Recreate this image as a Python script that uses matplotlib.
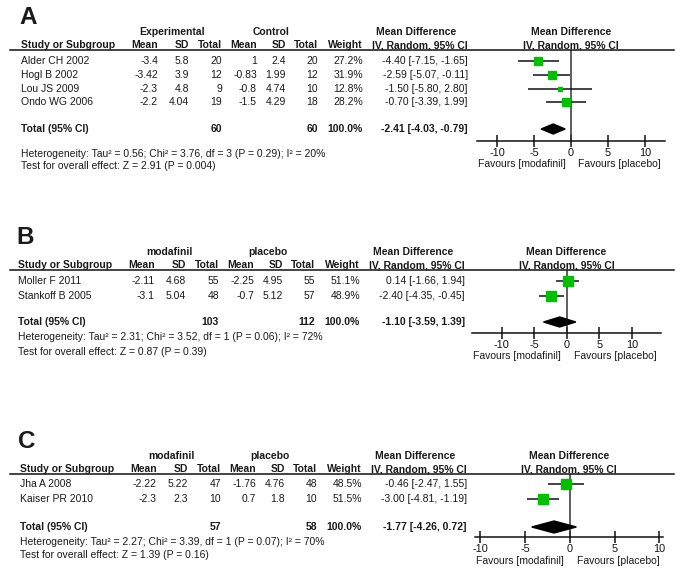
import numpy as np
import matplotlib
matplotlib.use("Agg")
import matplotlib.pyplot as plt
from matplotlib.lines import Line2D

plt.rcParams['font.family'] = ['Liberation Sans', 'DejaVu Sans']

W, H = 682, 574
TXT = '#1a1a1a'
GREEN = '#00c000'
FS = 7.5

# ---------------- data ----------------
# Panel A
a_group = ['Experimental', 'Control']
a_studies = ['Alder CH 2002', 'Hogl B 2002', 'Lou JS 2009', 'Ondo WG 2006']
a_exp_mean = ['-3.4', '-3.42', '-2.3', '-2.2']
a_exp_sd = ['5.8', '3.9', '4.8', '4.04']
a_exp_n = [20, 12, 9, 19]
a_ctl_mean = ['1', '-0.83', '-0.8', '-1.5']
a_ctl_sd = ['2.4', '1.99', '4.74', '4.29']
a_ctl_n = [20, 12, 10, 18]
a_weight = [27.2, 31.9, 12.8, 28.2]
a_md = [-4.40, -2.59, -1.50, -0.70]
a_lo = [-7.15, -5.07, -5.80, -3.39]
a_hi = [-1.65, -0.11, 2.80, 1.99]
a_total = (60, 60, -2.41, -4.03, -0.79)
a_het = 'Heterogeneity: Tau² = 0.56; Chi² = 3.76, df = 3 (P = 0.29); I² = 20%'
a_test = 'Test for overall effect: Z = 2.91 (P = 0.004)'

# Panel B
b_group = ['modafinil', 'placebo']
b_studies = ['Moller F 2011', 'Stankoff B 2005']
b_exp_mean = ['-2.11', '-3.1']
b_exp_sd = ['4.68', '5.04']
b_exp_n = [55, 48]
b_ctl_mean = ['-2.25', '-0.7']
b_ctl_sd = ['4.95', '5.12']
b_ctl_n = [55, 57]
b_weight = [51.1, 48.9]
b_md = [0.14, -2.40]
b_lo = [-1.66, -4.35]
b_hi = [1.94, -0.45]
b_total = (103, 112, -1.10, -3.59, 1.39)
b_het = 'Heterogeneity: Tau² = 2.31; Chi² = 3.52, df = 1 (P = 0.06); I² = 72%'
b_test = 'Test for overall effect: Z = 0.87 (P = 0.39)'

# Panel C
c_group = ['modafinil', 'placebo']
c_studies = ['Jha A 2008', 'Kaiser PR 2010']
c_exp_mean = ['-2.22', '-2.3']
c_exp_sd = ['5.22', '2.3']
c_exp_n = [47, 10]
c_ctl_mean = ['-1.76', '0.7']
c_ctl_sd = ['4.76', '1.8']
c_ctl_n = [48, 10]
c_weight = [48.5, 51.5]
c_md = [-0.46, -3.00]
c_lo = [-2.47, -4.81]
c_hi = [1.55, -1.19]
c_total = (57, 58, -1.77, -4.26, 0.72)
c_het = 'Heterogeneity: Tau² = 2.27; Chi² = 3.39, df = 1 (P = 0.07); I² = 70%'
c_test = 'Test for overall effect: Z = 1.39 (P = 0.16)'

ticks = [-10, -5, 0, 5, 10]

# ---------------- layout ----------------
fig = plt.figure(figsize=(W / 100, H / 100), dpi=100)


def fx(x):
    return x / W


def fy(y):
    return 1 - y / H


def t(x, y, s, ha='left', bold=False, size=FS, va='center'):
    fig.text(fx(x), fy(y), s, ha=ha, va=va, fontsize=size,
             fontweight='bold' if bold else 'normal', color=TXT)


def panel(letter, group, studies, em, esd, en, cm, csd, cn, wt, md, lo, hi,
          total, het, test, lay):
    dx = lay['dx']
    col = {k: v + dx for k, v in
           dict(study=21, em=158, esd=189, en=222, cm=257, csd=286, cn=318,
                wt=363, ci=468).items()}
    t(19 + dx, lay['letter'], letter, bold=True, size=17.5)
    # group headers
    t(172 + dx, lay['group'], group[0], ha='center', bold=True)
    t(271 + dx, lay['group'], group[1], ha='center', bold=True)
    t(416 + dx, lay['group'], 'Mean Difference', ha='center', bold=True)
    # column headers
    yh = lay['colhdr']
    t(col['study'], yh, 'Study or Subgroup', bold=True)
    for k, s in [('em', 'Mean'), ('esd', 'SD'), ('en', 'Total'),
                 ('cm', 'Mean'), ('csd', 'SD'), ('cn', 'Total'),
                 ('wt', 'Weight'), ('ci', 'IV, Random, 95% CI')]:
        t(col[k], yh, s, ha='right', bold=True)
    # header line
    fig.add_artist(Line2D([fx(10), fx(674)], [fy(lay['line'])] * 2,
                          color='#111111', lw=1.1))
    # rows
    for i, y in enumerate(lay['rows']):
        t(col['study'], y, studies[i])
        t(col['em'], y, em[i], ha='right')
        t(col['esd'], y, esd[i], ha='right')
        t(col['en'], y, str(en[i]), ha='right')
        t(col['cm'], y, cm[i], ha='right')
        t(col['csd'], y, csd[i], ha='right')
        t(col['cn'], y, str(cn[i]), ha='right')
        t(col['wt'], y, f'{wt[i]:.1f}%', ha='right')
        t(col['ci'], y, f'{md[i]:.2f} [{lo[i]:.2f}, {hi[i]:.2f}]', ha='right')
    ne, nc, tmd, tlo, thi = total
    yt = lay['total']
    t(col['study'], yt, 'Total (95% CI)', bold=True)
    t(col['en'], yt, str(ne), ha='right', bold=True)
    t(col['cn'], yt, str(nc), ha='right', bold=True)
    t(col['wt'], yt, '100.0%', ha='right', bold=True)
    t(col['ci'], yt, f'{tmd:.2f} [{tlo:.2f}, {thi:.2f}]', ha='right', bold=True)
    t(col['study'], lay['het'], het)
    t(col['study'], lay['test'], test)

    # forest axes
    x0, x1 = lay['ax_x']
    top, bot = lay['line'], lay['axis']
    ax = fig.add_axes([fx(x0), fy(bot), fx(x1) - fx(x0), (bot - top) / H])
    ax.set_xlim(*lay['xlim'])
    ax.set_ylim(bot, top)
    ax.patch.set_alpha(0)
    for s in ['top', 'left', 'right']:
        ax.spines[s].set_visible(False)
    ax.spines['bottom'].set_color('#111111')
    ax.spines['bottom'].set_linewidth(1.1)
    ax.set_yticks([])
    ax.set_xticks(ticks)
    ax.set_xticklabels([str(v) for v in ticks])
    ax.tick_params(axis='x', direction='inout', length=8, width=1.1,
                   labelsize=7.8, colors='#111111', pad=1)
    ax.axvline(0, color='#333333', lw=1.1)
    rows = lay['rows']
    ax.hlines(rows, lo, hi, color='#111111', lw=1.1, zorder=2)
    for i, y in enumerate(rows):
        ax.plot(md[i], y, 's', color=GREEN, ms=np.sqrt(wt[i]) * lay['msf'],
                mec=GREEN, zorder=3)
    h = lay['dh']
    ax.fill([tlo, tmd, thi, tmd], [yt, yt - h, yt, yt + h], color='black',
            zorder=3, clip_on=False)
    # favours labels
    yf = lay['fav']
    trans = ax.get_xaxis_transform()
    ax.annotate('Favours [modafinil]', xy=(0, 0), xycoords=trans,
                xytext=(-4, -(yf - bot) * 0.72), textcoords='offset points',
                ha='right', va='center', fontsize=FS, color=TXT)
    ax.annotate('Favours [placebo]', xy=(0, 0), xycoords=trans,
                xytext=(5, -(yf - bot) * 0.72), textcoords='offset points',
                ha='left', va='center', fontsize=FS, color=TXT)
    # forest header
    xc = (x0 + x1) / 2
    t(xc, lay['group'], 'Mean Difference', ha='center', bold=True)
    t(xc, lay['colhdr'], 'IV, Random, 95% CI', ha='center', bold=True)


panel('A', a_group, a_studies, a_exp_mean, a_exp_sd, a_exp_n, a_ctl_mean,
      a_ctl_sd, a_ctl_n, a_weight, a_md, a_lo, a_hi, a_total, a_het, a_test,
      dict(dx=0, letter=17, group=32, colhdr=45, line=50,
           rows=[61, 75, 89, 102], total=129, het=154, test=166, axis=141,
           fav=164, ax_x=(477, 665), xlim=(-12.7, 12.7), msf=1.0, dh=5))

panel('B', b_group, b_studies, b_exp_mean, b_exp_sd, b_exp_n, b_ctl_mean,
      b_ctl_sd, b_ctl_n, b_weight, b_md, b_lo, b_hi, b_total, b_het, b_test,
      dict(dx=-3, letter=237, group=252, colhdr=265, line=270,
           rows=[281, 296], total=322, het=337, test=352, axis=333,
           fav=356, ax_x=(472, 661), xlim=(-14.6, 14.5), msf=1.0, dh=5))

panel('C', c_group, c_studies, c_exp_mean, c_exp_sd, c_exp_n, c_ctl_mean,
      c_ctl_sd, c_ctl_n, c_weight, c_md, c_lo, c_hi, c_total, c_het, c_test,
      dict(dx=-1, letter=442, group=456, colhdr=469, line=474,
           rows=[484, 499], total=527, het=542, test=555, axis=537,
           fav=561, ax_x=(475, 663), xlim=(-10.6, 10.4), msf=1.0, dh=6))

fig.savefig('out.png', dpi=100)
